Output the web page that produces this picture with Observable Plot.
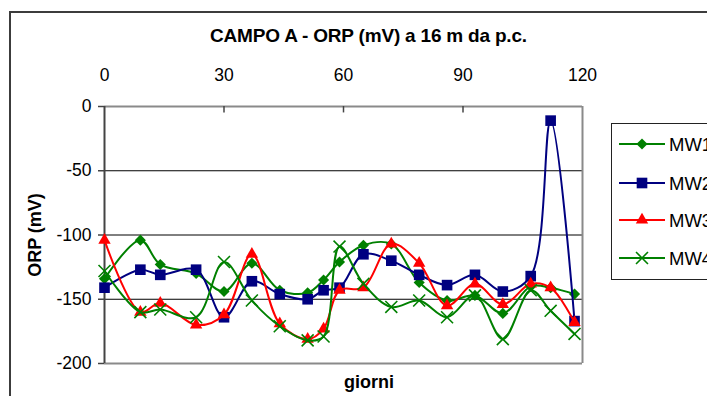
<!DOCTYPE html>
<html>
<head>
<meta charset="utf-8">
<script src="https://cdn.jsdelivr.net/npm/d3@7"></script>
<script src="https://cdn.jsdelivr.net/npm/@observablehq/plot@0.6"></script>
<style>
  html, body { margin: 0; padding: 0; background: #fff; overflow: hidden; }
  body { width: 707px; height: 396px; position: relative; font-family: "Liberation Sans", Arial, sans-serif; }
  #chart { position: absolute; left: 0; top: 0; }
  .border { position: absolute; left: 9px; top: 11px; width: 800px; height: 500px; border: 2px solid #3c3c3c; box-sizing: border-box; }
  .title { position: absolute; left: 0; width: 737px; top: 25px; text-align: center; font-weight: bold; font-size: 19px; letter-spacing: -0.2px; }
  .ytitle { position: absolute; left: 35px; top: 235px; transform: translate(-50%, -50%) rotate(-90deg); font-weight: bold; font-size: 18px; white-space: nowrap; }
  .xtitle { position: absolute; left: 369px; top: 382px; transform: translate(-50%, -50%); font-weight: bold; font-size: 18px; }
  .legend { position: absolute; left: 611px; top: 123px; width: 140px; height: 157px; border: 1.5px solid #222; box-sizing: border-box; background: #fff; }
</style>
</head>
<body>
<div class="border"></div>
<div id="chart"></div>
<div class="title">CAMPO A - ORP (mV) a 16 m da p.c.</div>
<div class="ytitle">ORP (mV)</div>
<div class="xtitle">giorni</div>
<div class="legend" id="legend"></div>
<script>
// Sampling days
const days = [0, 9, 14, 23, 30, 37, 44, 51, 55, 59, 65, 72, 79, 86, 93, 100, 107, 112, 118];

// ORP readings (mV) per monitoring well
const mw1 = [-134, -104, -123, -130, -144, -122, -143, -145, -135, -121, -108, -107, -137, -151, -147, -161, -140, -141, -146];
const mw2 = [-141, -127, -131, -127, -164, -136, -146, -150, -143, -141, -115, -120, -131, -139, -131, -144, -132, -11, -167];
const mw3 = [-104, -160, -153, -170, -162, -115, -169, -181, -173, -143, -141, -107, -122, -155, -138, -154, -138, -141, -168];
const mw4 = [-128, -160, -158, -164, -121, -151, -171, -182, -179, -109, -138, -156, -151, -164, -147, -181, -143, -159, -177];

const seriesNames = ["MW1", "MW2", "MW3", "MW4"];
const xTicks = [0, 30, 60, 90, 120];
const yTicks = [0, -50, -100, -150, -200];

const seriesValues = [mw1, mw2, mw3, mw4];
const styles = [
  {color: "#008000", symbol: "diamond2", r: 5, filled: true},
  {color: "#000080", symbol: "square", r: 6, filled: true},
  {color: "#ff0000", symbol: "triangle", r: 4.6, filled: true},
  {color: "#008000", symbol: "times", r: 5.5, filled: false}
];

const series = seriesNames.map((name, i) => ({
  name,
  style: styles[i],
  points: days.map((d, j) => ({day: d, orp: seriesValues[i][j]}))
}));

const seriesMarks = series.flatMap(s => [
  Plot.line(s.points, {x: "day", y: "orp", stroke: s.style.color, strokeWidth: 2, curve: "catmull-rom"}),
  s.style.filled
    ? Plot.dot(s.points, {x: "day", y: "orp", symbol: s.style.symbol, r: s.style.r, fill: s.style.color, stroke: "none"})
    : Plot.dot(s.points, {x: "day", y: "orp", symbol: s.style.symbol, r: s.style.r, stroke: s.style.color, strokeWidth: 1.6})
]);

const tickFont = 17.5;

const chart = Plot.plot({
  width: 707,
  height: 396,
  marginLeft: 104,
  marginRight: 125,
  marginTop: 106,
  marginBottom: 33,
  style: {fontFamily: "'Liberation Sans', Arial, sans-serif", fontSize: tickFont + "px", background: "transparent", overflow: "visible"},
  x: {domain: [0, 120]},
  y: {domain: [-200, 0]},
  marks: [
    // gridlines
    Plot.ruleY(yTicks.slice(1, -1), {stroke: "#000", strokeWidth: 1}),
    // plot-area frame
    Plot.ruleY([yTicks[0], yTicks[yTicks.length - 1]], {stroke: "#8a8a8a", strokeWidth: 2}),
    Plot.ruleX([xTicks[xTicks.length - 1]], {stroke: "#8a8a8a", strokeWidth: 2}),
    // inner tick marks of the top axis
    Plot.ruleX(xTicks.slice(1, -1), {y1: 0, y2: -5, stroke: "#444", strokeWidth: 1.5}),
    // value axis line
    Plot.ruleX([0], {stroke: "#444", strokeWidth: 2}),
    Plot.axisY({ticks: yTicks, tickSize: 6, tickPadding: 7, label: null, fontSize: tickFont,
      tickFormat: d => d === 0 ? "0" : String(d).replace("\u2212", "-"), stroke: "#444", strokeWidth: 1.5, fill: "#000"}),
    Plot.axisX({anchor: "top", ticks: xTicks, tickSize: 0, tickPadding: 26, label: null, fontSize: tickFont, fill: "#000"}),
    ...seriesMarks
  ]
});
document.getElementById("chart").appendChild(chart);

// Legend
const lg = d3.select("#legend").append("svg")
  .attr("width", 140).attr("height", 155)
  .style("position", "absolute").style("left", "0px").style("top", "0px");
const rowY = [20, 59, 96, 134];
const symbolTypes = {diamond2: d3.symbolDiamond2, square: d3.symbolSquare, triangle: d3.symbolTriangle, times: d3.symbolTimes};
series.forEach((s, i) => {
  const g = lg.append("g").attr("transform", `translate(0,${rowY[i]})`);
  g.append("line").attr("x1", 7).attr("x2", 53).attr("y1", 0).attr("y2", 0)
    .attr("stroke", s.style.color).attr("stroke-width", 2);
  const path = d3.symbol(symbolTypes[s.style.symbol], Math.PI * s.style.r * s.style.r)();
  const p = g.append("path").attr("d", path).attr("transform", "translate(30,0)");
  if (s.style.filled) p.attr("fill", s.style.color);
  else p.attr("fill", "none").attr("stroke", s.style.color).attr("stroke-width", 1.6);
  g.append("text").attr("x", 57).attr("y", 0).attr("dy", "0.36em")
    .attr("font-size", 18.5).attr("font-family", "'Liberation Sans', Arial, sans-serif")
    .text(s.name);
});
</script>
</body>
</html>
